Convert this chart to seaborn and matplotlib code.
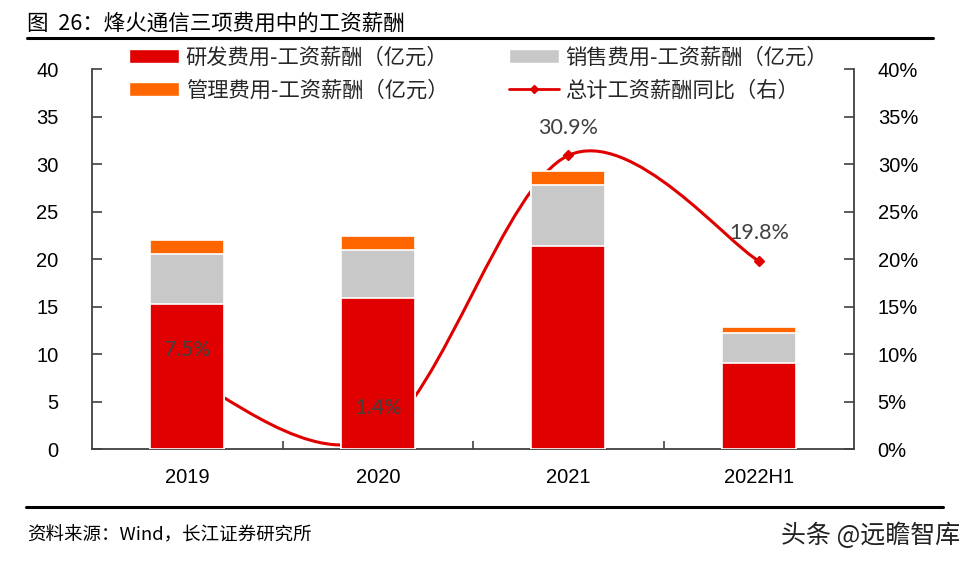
import numpy as np
import pandas as pd
import matplotlib
matplotlib.use("Agg")
import matplotlib.pyplot as plt
import seaborn as sns
from matplotlib.path import Path
from matplotlib.patches import PathPatch, Patch
from matplotlib.lines import Line2D
from matplotlib.ticker import FuncFormatter

# 数据（亿元 / %）
years = ["2019", "2020", "2021", "2022H1"]
rd_pay = [15.3, 15.9, 21.4, 9.1]        # 研发费用-工资薪酬
sales_pay = [5.2, 5.1, 6.4, 3.1]        # 销售费用-工资薪酬
admin_pay = [1.55, 1.4, 1.5, 0.6]       # 管理费用-工资薪酬
total_yoy = [7.5, 1.4, 30.9, 19.8]      # 总计工资薪酬同比（右）
yoy_labels = ["7.5%", "1.4%", "30.9%", "19.8%"]

RED = "#E00000"
GRAY = "#C8C8C8"
ORANGE = "#FF6600"
AXC = "#404040"

sns.set_theme(style="white")
plt.rcParams['font.family'] = ['Noto Sans CJK SC', 'DejaVu Sans']

fig = plt.figure(figsize=(9.75, 5.61), dpi=100)
ax = fig.add_axes([0.0944, 0.1996, 0.7816, 0.6774])
ax2 = ax.twinx()
ax.set_zorder(ax2.get_zorder() + 1)
ax.patch.set_visible(False)

df = pd.DataFrame({"year": years, "rd": rd_pay, "sales": sales_pay, "admin": admin_pay})
df["rd_sales"] = df["rd"] + df["sales"]
df["all"] = df["rd_sales"] + df["admin"]

# 叠加柱：从上往下画
bw = 0.39
sns.barplot(data=df, x="year", y="all", color=ORANGE, width=bw, ax=ax,
            saturation=1, edgecolor="white", linewidth=1.2, zorder=3)
sns.barplot(data=df, x="year", y="rd_sales", color=GRAY, width=bw, ax=ax,
            saturation=1, edgecolor="white", linewidth=1.2, zorder=3)
sns.barplot(data=df, x="year", y="rd", color=RED, width=bw, ax=ax,
            saturation=1, edgecolor="white", linewidth=1.2, zorder=3)

# 平滑折线（Catmull-Rom 转贝塞尔）
xs = np.arange(len(years), dtype=float)
ys = np.array(total_yoy, dtype=float)
pts = np.column_stack([xs, ys])
ext = np.vstack([pts[0], pts, pts[-1]])
verts = [tuple(pts[0])]
codes = [Path.MOVETO]
for i in range(len(pts) - 1):
    p0, p1, p2, p3 = ext[i], ext[i + 1], ext[i + 2], ext[i + 3]
    c1 = p1 + (p2 - p0) / 6
    c2 = p2 - (p3 - p1) / 6
    verts += [tuple(c1), tuple(c2), tuple(p2)]
    codes += [Path.CURVE4] * 3
ax2.add_patch(PathPatch(Path(verts, codes), facecolor="none", edgecolor=RED,
                        lw=2.2, transform=ax2.transData))
ax2.plot(xs, ys, linestyle="none", marker="D", markersize=5, color=RED)

for x, y, lab in zip(xs, ys, yoy_labels):
    ax.text(x, y + 2.9, lab, transform=ax2.transData, ha="center", va="center",
            fontsize=15.5, color="#404040", family=["Lato", "DejaVu Sans"], zorder=5)

# 坐标轴
ax.set_xlim(-0.5, 3.5)
ax.set_ylim(0, 40)
ax2.set_ylim(0, 40)
ax.set_yticks(range(0, 41, 5))
ax2.set_yticks(range(0, 41, 5))
ax2.yaxis.set_major_formatter(FuncFormatter(lambda v, p: f"{v:.0f}%"))
ax.set_xlabel("")
ax.set_ylabel("")
ax.set_xticks(xs)
ax.set_xticklabels(years)
ax.set_xticks([0.5, 1.5, 2.5], minor=True)

for a in (ax, ax2):
    for s in a.spines.values():
        s.set_visible(False)
ax.spines["left"].set_visible(True)
ax.spines["bottom"].set_visible(True)
ax2.spines["right"].set_visible(True)
for s in (ax.spines["left"], ax.spines["bottom"], ax2.spines["right"]):
    s.set_color(AXC)
    s.set_linewidth(1.3)

tick_font = ["Liberation Sans", "DejaVu Sans"]
ax.tick_params(axis="y", direction="in", length=7, width=1.2, color=AXC,
               pad=24, labelsize=14.5, left=True)
ax2.tick_params(axis="y", direction="in", length=7, width=1.2, color=AXC,
                pad=17, labelsize=14.5, right=True)
ax.tick_params(axis="x", which="major", length=0, pad=14, labelsize=14.5)
ax.tick_params(axis="x", which="minor", direction="in", length=6, width=1.2,
               color=AXC, bottom=True)
for lab in ax.get_yticklabels() + ax2.get_yticklabels() + ax.get_xticklabels():
    lab.set_family(tick_font)
    lab.set_color("black")

# 图例
handles = [
    Patch(facecolor=RED, label="研发费用-工资薪酬（亿元）"),
    Patch(facecolor=ORANGE, label="管理费用-工资薪酬（亿元）"),
    Patch(facecolor=GRAY, label="销售费用-工资薪酬（亿元）"),
    Line2D([], [], color=RED, lw=2, marker="D", markersize=4, label="总计工资薪酬同比（右）"),
]
fig.legend(handles=handles, ncol=2, loc="upper left", bbox_to_anchor=(0.124, 0.932),
           frameon=False, fontsize=15.3, handlelength=2.35, handleheight=0.6,
           handletextpad=0.3, columnspacing=2.85, labelspacing=0.5,
           borderaxespad=0)

# 标题、线、来源
fig.text(0.028, 0.958, "图  26：烽火通信三项费用中的工资薪酬", fontsize=15.5,
         ha="left", va="center", color="black")
fig.add_artist(Line2D([0.028, 0.957], [0.933, 0.933], color="black", lw=2.2))
fig.add_artist(Line2D([0.027, 0.967], [0.097, 0.097], color="black", lw=2.2))
fig.text(0.028, 0.045, "资料来源：Wind，长江证券研究所", fontsize=13.3,
         ha="left", va="center", color="black")
fig.text(0.985, 0.045, "头条 @远瞻智库", fontsize=18,
         ha="right", va="center", color="#222222")

fig.savefig("out.png", dpi=100)
